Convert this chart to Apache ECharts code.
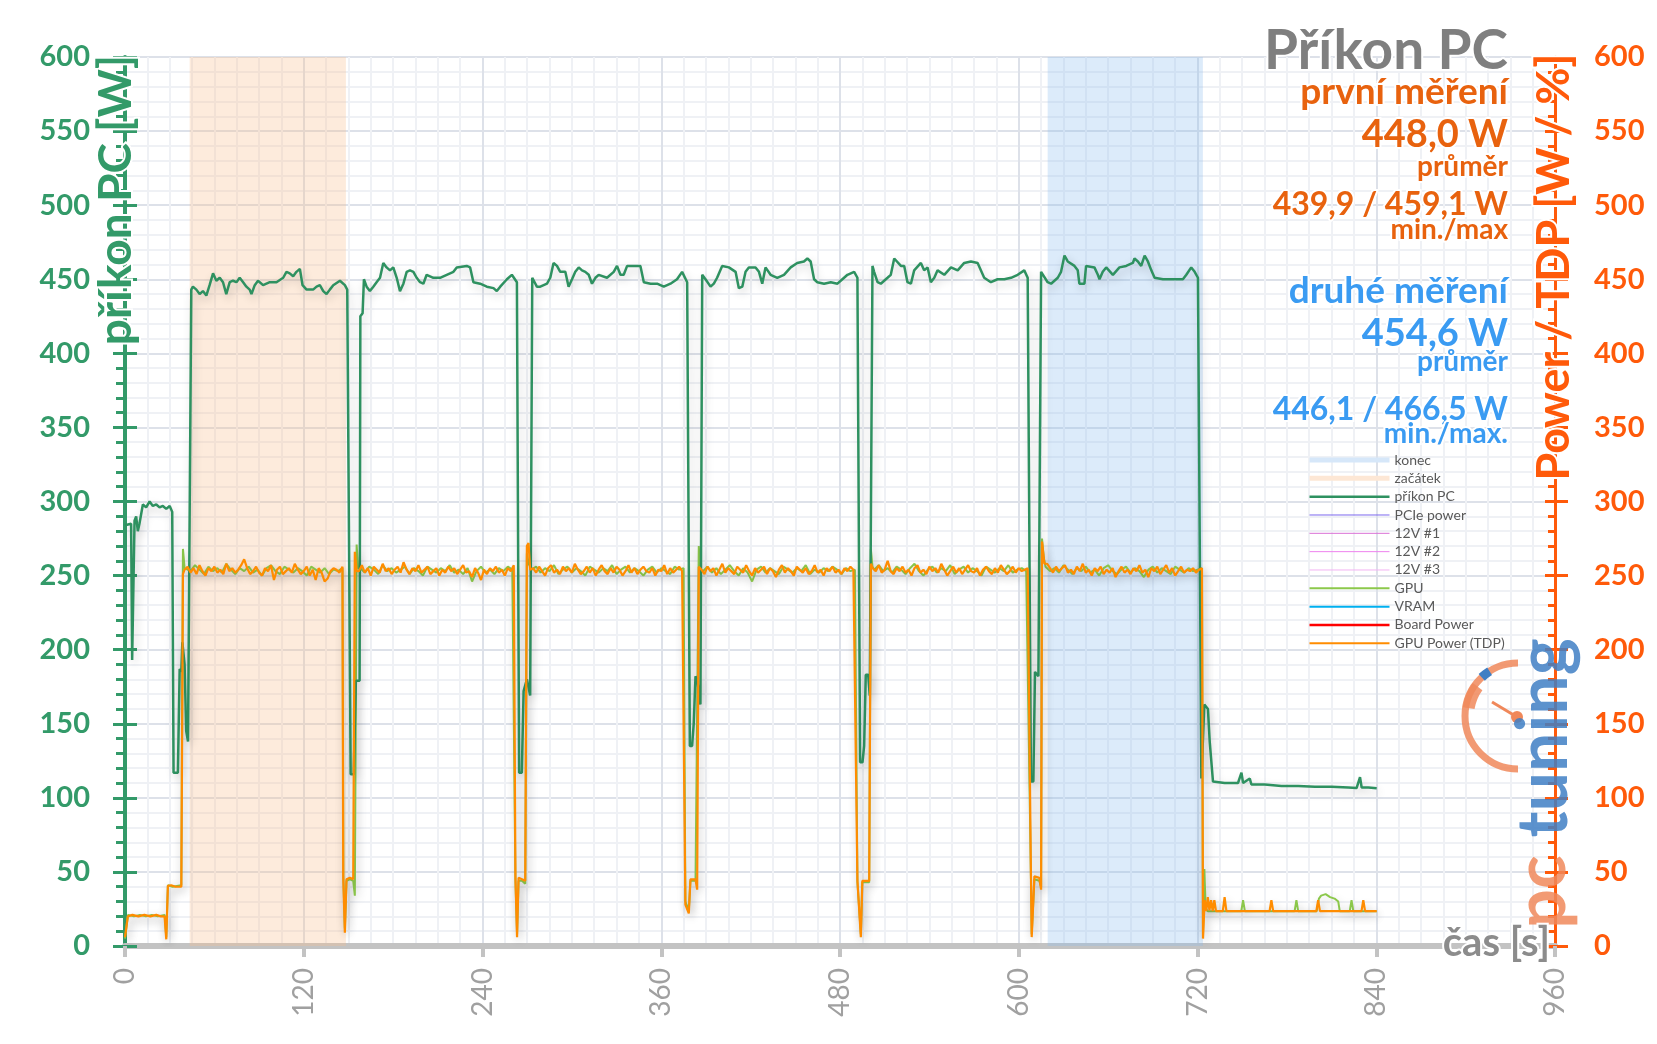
<!DOCTYPE html>
<html>
<head>
<meta charset="utf-8">
<script src="https://cdn.jsdelivr.net/npm/echarts@6/dist/echarts.min.js"></script>
<style>
html,body{margin:0;padding:0;background:#fff;}
#chart{width:1657px;height:1044px;}
</style>
</head>
<body>
<div id="chart"></div>
<script>
// ---------- axes ----------
const xMin = 0, xMax = 960, xInterval = 120;
const yMin = 0, yMax = 600, yInterval = 50;

// ---------- shaded bands (seconds) ----------
const bandZacatek = [43.4, 148.3];
const bandKonec = [619.4, 723.6];

// ---------- příkon PC [t, W] ----------
const prikonIdle = [[0,284],[4.1,285],[4.8,193],[6.0,193],[6.4,287],[7.5,290],[8.6,280],[9.7,285],[12,298],[14.2,296],[16.5,300],[18.7,297],[21,298],[23.2,296],[25.4,297],[27.7,295],[30,297],[31.7,293],[32.6,117],[35.5,117],[36.7,187],[37.8,185],[38.5,205],[40,190],[41.1,145],[42.3,138],[43.4,138]];
const prikonRun1 = [[44.5,443],[45.6,445],[47.9,443],[50.1,440],[52.3,442],[54.6,439],[56.8,446],[59.1,454],[61.3,449],[63.6,451],[65.8,448],[68,440],[70.3,448],[72.5,449],[74.8,448],[77,451],[79.3,448],[81.5,445],[83.7,443],[84.9,440],[87.1,446],[89.3,449],[92.7,446],[97.2,448],[101.7,448],[106.2,451],[108.4,455],[110.6,454],[112.9,452],[115.1,455],[117.4,457],[119.2,446],[121.9,443],[126.3,443],[128.6,445],[130.8,446],[133.1,442],[135.3,440],[137.5,443],[139.8,446],[144.3,449],[147.6,446],[149.2,443]];
const prikonGap1 = [[151.5,116],[153.5,116],[155,179],[157.5,179],[158,425],[159.5,427],[160.4,450]];
const prikonRun2 = [[162.2,445],[164.4,442],[166.7,445],[168.9,448],[171.2,451],[173.4,461],[175.6,458],[177.9,456],[180.1,458],[182.4,451],[184.6,442],[186.9,447],[189.1,455],[191.3,456],[193.6,455],[195.8,451],[198.1,448],[200.3,447],[202.5,453],[207,451],[211.5,451],[216,453],[220.5,455],[222.7,458],[229.4,459],[231.7,458],[233.9,448],[238.4,447],[242.9,445],[247.4,444],[249.6,442],[251.9,445],[256.4,450],[259.7,453],[263.1,448]];
const prikonGap2 = [[264.6,117],[266.4,117],[267.6,172],[269.8,180],[272,169],[273.4,451]];
const prikonRun3 = [[276.5,445],[278.8,445],[283.3,447],[285.5,451],[287.7,461],[290,459],[292.2,455],[295.6,455],[297.8,445],[300.1,450],[302.3,455],[304.6,458],[306.8,456],[309,455],[311.3,453],[313.5,447],[315.8,451],[318,453],[323.6,451],[328.1,455],[330.3,459],[332.6,453],[334.8,453],[337.1,459],[342.7,459],[346,459],[348.3,448],[352.8,447],[357.2,447],[361.7,445],[366.2,447],[370.6,450],[374,455],[377.4,448]];
const prikonGap3 = [[379.2,135],[380.7,135],[381.8,150],[383,182],[384.1,180],[386.3,163],[387.5,453]];
const prikonRun4 = [[389.7,450],[393.1,445],[395.3,447],[397.5,451],[400.9,459],[405.4,458],[409.9,455],[412.1,444],[414.4,445],[416.6,455],[418.8,458],[423.3,458],[425.6,455],[427.8,447],[430,458],[431.2,459],[433.4,453],[437.9,451],[442.4,453],[446.9,458],[451.3,461],[455.8,462],[458.1,464],[460.3,462],[462.6,450],[464.8,448],[469.3,447],[473.8,448],[478.3,447],[481.6,450],[485,453],[489.5,455],[491.7,451]];
const prikonGap4 = [[493.5,124],[495.1,124],[496.2,135],[497.3,183],[498.9,183],[500,169],[501.8,459]];
const prikonRun5 = [[502.9,455],[505.2,448],[507.4,447],[511.9,451],[514.1,453],[516.4,464],[520.9,459],[523.1,459],[525.3,448],[527.6,447],[529.8,456],[534.3,461],[536.5,456],[538.8,458],[541,448],[543.3,451],[545.5,456],[550,453],[554.5,458],[559,456],[563.4,461],[567.9,462],[572.4,461],[576.8,451],[581.3,448],[585.8,450],[590.3,450],[594.8,451],[599.3,453],[603.7,456],[606,451]];
const prikonGap5 = [[608.2,111],[609.8,111],[610.9,185],[613.2,182],[614.1,182],[615,455]];
const prikonRun6 = [[619.4,448],[621.7,447],[626.2,451],[628.4,455],[630.7,466],[632.9,462],[637.4,459],[639.6,456],[640.7,447],[644.1,447],[645.2,459],[650.8,458],[653.1,453],[654.2,450],[656.4,455],[658.7,458],[663.2,453],[667.6,458],[672.1,459],[676.6,461],[677.7,464],[680,462],[682.2,459],[684.5,466],[686.7,462],[689,456],[691.2,451],[696.8,450],[703.5,450],[710.2,450],[712.5,453],[715.8,458],[718.1,455],[720.3,451]];
const prikonTail = [[722.6,113],[724.6,163],[727,160],[728.2,138],[730.4,111],[738.2,110],[747.2,110],[749.5,117],[750.6,110],[755.1,113],[756.2,109],[765.1,109],[776.4,108],[787.6,108],[798.8,107.5],[810,107.5],[821.2,107],[826.8,106.6],[829.1,114],[830.2,107],[834.7,107],[840.3,106.5]];

// ---------- GPU Power (TDP) ----------
const tdpIdle = [[0,6],[1.9,20],[5,21],[9,20],[13,21],[17,20],[21,21],[24,20],[26.6,20],[27.7,4.5],[28.8,40.6],[31,41],[34,40],[37.8,40],[38.9,251]];
const tdpRun1 = {start:40, step:2, values:[254,256,252,255,251,257,253,250,255,253,256,252,254,251,258,253,255,252,254,257,261,255,251,253,256,252,250,255,253,257,247,254,256,251,253,255,252,258,254,251,253,256,250,254,247,255,252,246,248,253,255,254,252,256]};
const tdpGap1 = [[146.5,47],[147.6,9],[148.7,45],[151,46],[153.2,45],[154.3,266],[155.5,253]];
const tdpRun2 = {start:157, step:2, values:[253,257,252,255,250,256,254,252,258,253,255,251,254,256,252,259,254,251,255,253,257,252,254,256,251,253,255,250,254,252,256,253,255,251,254,257,252,253,249,255,252,247,254,251,255,253,256,252,254,250,255,253,257]};
const tdpGap2 = [[262.1,47],[263.2,6],[264.2,46],[266.5,45],[268.7,44],[269.8,270],[270.9,272],[272,254]];
const tdpRun3 = {start:274, step:2, values:[255,252,256,253,250,255,257,252,254,251,256,253,255,252,258,254,251,253,256,252,255,250,254,257,253,251,255,252,256,254,250,253,257,252,255,251,254,256,253,252,255,250,254,253,257,251,255,252,254,256,253]};
const tdpGap3 = [[376.2,28],[378.5,22],[379.6,45],[383,45],[384.1,38],[385.2,256]];
const tdpRun4 = {start:387, step:2, values:[254,251,256,253,255,250,254,258,252,255,253,251,256,254,252,257,253,250,255,252,254,256,251,255,253,249,254,257,252,255,253,250,256,254,252,255,251,253,257,252,254,250,255,253,256,252,254,251,255,253,256,254]};
const tdpGap4 = [[491.7,44],[494,6],[495,44],[499.6,44],[500.7,258]];
const tdpRun5 = {start:502, step:2, values:[255,253,257,252,254,260,253,251,255,253,256,252,254,250,255,257,252,254,251,256,253,255,252,258,254,250,253,256,252,255,251,254,257,253,252,255,250,254,256,253,251,255,252,257,254,251,253,256,252,255,253,254,255]};
const tdpGap5 = [[608.2,47],[608.7,6],[610.5,47],[613.8,46],[615,38],[615.6,273],[617.2,258]];
const tdpRun6 = {start:619, step:2, values:[258,255,252,256,253,255,257,252,254,251,256,253,258,252,254,250,255,253,256,251,254,252,255,249,253,256,252,254,251,255,253,257,252,254,249,255,253,256,251,254,257,252,255,250,253,256,252,254,253,255,252,254]};
const tdpTail = [[723,255],[723.7,5],[724.8,31],[725.9,23.5],[726.9,33],[728,24],[729.1,31],[730.2,23.5],[731.3,31],[732.4,23.5],[737,23.5],[738.2,33],[739.4,23.5],[768.4,23.5],[769.6,31],[770.8,23.5],[799.8,23.5],[801,31],[802.2,23.5],[830.1,23.5],[831.3,31],[832.5,23.5],[840.3,23.5]];

// ---------- GPU ----------
const gpuIdle = [[0,5],[2,21],[6,20],[10,21],[14,20],[18,21],[22,20],[26.6,21],[27.7,6],[28.8,41],[32,40],[37.8,41],[38.9,268],[40,255]];
const gpuRun1 = {start:41, step:3, values:[256,253,257,254,251,256,253,255,252,258,254,251,255,253,256,252,254,250,255,257,253,251,256,254,252,255,253,250,256,254,252,255,251,254,253,255]};
const gpuGap1 = [[146.6,46],[147.6,12],[148.7,44],[151,45],[153.2,44],[154.3,34],[155.5,271],[156.5,255]];
const gpuRun2 = {start:158, step:3, values:[255,252,256,254,251,257,253,255,252,254,256,251,255,253,250,256,254,252,255,253,257,252,254,251,255,246,253,256,252,254,251,255,253,256,254]};
const gpuGap2 = [[262.1,45],[263.2,8],[264.2,44],[266.5,44],[268.7,42],[269.8,265],[271,258]];
const gpuRun3 = {start:273, step:3, values:[254,256,252,255,253,257,251,254,256,252,255,253,250,256,254,252,255,253,257,251,254,256,252,255,253,250,254,256,252,255,253,251,256,254,255]};
const gpuGap3 = [[376.2,30],[378.5,24],[379.6,44],[383,44],[384.1,45],[385.2,270],[386.3,254]];
const gpuRun4 = {start:388, step:3, values:[253,256,252,255,251,254,257,253,250,255,252,246,254,256,252,255,253,251,256,254,252,255,253,257,251,254,252,255,253,256,254,251,255,253,254]};
const gpuGap4 = [[491.7,43],[494,8],[495,43],[499.6,43],[500.7,268],[501.8,256]];
const gpuRun5 = {start:503, step:3, values:[254,257,253,255,252,256,254,251,255,258,253,250,254,256,252,255,253,257,251,254,256,252,255,253,250,256,254,252,255,253,257,252,254,255,253]};
const gpuGap5 = [[608.2,45],[608.7,8],[610.5,45],[613.8,44],[615,40],[615.6,275],[616.8,262]];
const gpuRun6 = {start:618, step:3, values:[256,253,255,252,257,254,251,255,253,256,252,254,250,255,257,253,251,254,256,252,255,253,249,254,256,252,255,253,251,256,254,252,255,253,254]};
const gpuTail = [[723,255],[723.7,8],[724.6,52],[725.5,25],[727,23.5],[749.4,23.5],[750.6,31],[751.8,23.5],[785.2,23.5],[786.4,31],[787.6,23.5],[800,23.5],[801.5,32],[803,34],[806,35],[809,33],[812,32],[814.5,30],[815.5,23.5],[822.2,23.5],[823.4,31],[824.6,23.5],[840.3,23.5]];

// ---------- legend ----------
const legendNames = ['konec','začátek','příkon PC','PCIe power','12V #1','12V #2','12V #3','GPU','VRAM','Board Power','GPU Power (TDP)'];

// ---------- texts ----------
const titleText = 'Příkon PC';
const first = ['první měření','448,0 W','průměr','439,9 / 459,1 W','min./max'];
const second = ['druhé měření','454,6 W','průměr','446,1 / 466,5 W','min./max.'];

// ---------- build ----------
function run(r){ return r.values.map((v,i)=>[r.start + i*r.step, v]); }
const prikonData = [].concat(prikonIdle,prikonRun1,prikonGap1,prikonRun2,prikonGap2,prikonRun3,prikonGap3,prikonRun4,prikonGap4,prikonRun5,prikonGap5,prikonRun6,prikonTail);
const tdpData = [].concat(tdpIdle,run(tdpRun1),tdpGap1,run(tdpRun2),tdpGap2,run(tdpRun3),tdpGap3,run(tdpRun4),tdpGap4,run(tdpRun5),tdpGap5,run(tdpRun6),tdpTail);
const gpuData = [].concat(gpuIdle,run(gpuRun1),gpuGap1,run(gpuRun2),gpuGap2,run(gpuRun3),gpuGap3,run(gpuRun4),gpuGap4,run(gpuRun5),gpuGap5,run(gpuRun6),gpuTail);

const GREEN_AX = '#339a69';
const ORANGE_AX = '#ff5a0a';
const FONT = 'Lato';
const shadow = {shadowColor:'rgba(0,0,0,0.2)', shadowBlur:10, shadowOffsetX:2, shadowOffsetY:4};

const colors = {
  'konec':'#d6e7f9', 'začátek':'#fde7d5', 'příkon PC':'#2e9160', 'PCIe power':'#7b68ee',
  '12V #1':'#da70d6', '12V #2':'#ee82ee', '12V #3':'#f3b3f3', 'GPU':'#8cc84b',
  'VRAM':'#00b0f0', 'Board Power':'#ff0000', 'GPU Power (TDP)':'#ff8c00'
};
const widths = {'konec':5,'začátek':5,'příkon PC':2.5,'PCIe power':1,'12V #1':1,'12V #2':1,'12V #3':1,'GPU':2,'VRAM':2,'Board Power':2.5,'GPU Power (TDP)':2};

function lineSeries(name, data, extra){
  return Object.assign({
    name, type:'line', data, xAxisIndex:0, yAxisIndex:0, symbol:'none', showSymbol:false,
    lineStyle:{color:colors[name], width:widths[name]}, itemStyle:{color:colors[name]},
    silent:true, animation:false
  }, extra||{});
}

const series = [
  lineSeries('konec', [], {markArea:{silent:true, itemStyle:{color:'rgba(140,190,240,0.3)'}, data:[[{xAxis:bandKonec[0]},{xAxis:bandKonec[1]}]]}}),
  lineSeries('začátek', [], {markArea:{silent:true, itemStyle:{color:'rgba(250,190,140,0.3)'}, data:[[{xAxis:bandZacatek[0]},{xAxis:bandZacatek[1]}]]}}),
  lineSeries('PCIe power', []),
  lineSeries('12V #1', []),
  lineSeries('12V #2', []),
  lineSeries('12V #3', []),
  lineSeries('VRAM', []),
  lineSeries('Board Power', []),
  lineSeries('GPU', gpuData, {lineStyle:Object.assign({color:colors['GPU'], width:2}, shadow), z:3}),
  lineSeries('příkon PC', prikonData, {lineStyle:Object.assign({color:colors['příkon PC'], width:2.5}, shadow), z:4}),
  lineSeries('GPU Power (TDP)', tdpData, {lineStyle:Object.assign({color:colors['GPU Power (TDP)'], width:2.2}, shadow), z:5})
];

function txt(text, y, size, color){
  return {type:'text', z:50, style:{text, x:1508, y, align:'right', verticalAlign:'middle',
    font:'bold '+size+'px '+FONT, fill:color, stroke:'#fff', lineWidth:4}};
}
const ORANGE_T = '#e8620e', BLUE_T = '#3a9bf2';
const LOGO_O = '#f0885a', LOGO_B = '#3f7fc4';

const graphic = [
  // logo (watermark)
  {type:'group', z:10, children:[
    {type:'arc', z:10, shape:{cx:1518, cy:716, r:53, startAngle:Math.PI/2, endAngle:Math.PI*1.5, clockwise:true}, style:{stroke:LOGO_O, lineWidth:7, fill:'none', opacity:0.85}},
    {type:'arc', z:10, shape:{cx:1518, cy:716, r:50, startAngle:Math.PI*1.05, endAngle:Math.PI*1.2, clockwise:true}, style:{stroke:LOGO_O, lineWidth:12, fill:'none', opacity:0.85}},
    {type:'arc', z:11, shape:{cx:1518, cy:716, r:53, startAngle:Math.PI*1.26, endAngle:Math.PI*1.32, clockwise:true}, style:{stroke:LOGO_B, lineWidth:9, fill:'none'}},
    {type:'line', z:10, shape:{x1:1517, y1:717, x2:1492, y2:702}, style:{stroke:LOGO_O, lineWidth:3}},
    {type:'circle', z:10, shape:{cx:1517, cy:717, r:6}, style:{fill:LOGO_O}},
    {type:'text', z:10, x:1544, y:738, rotation:Math.PI/2, style:{text:'tuning', align:'center', verticalAlign:'middle', font:'bold 70px '+FONT, fill:LOGO_B, opacity:0.85}},
    {type:'text', z:10, x:1542, y:892, rotation:Math.PI/2, style:{text:'pc', align:'center', verticalAlign:'middle', font:'bold 70px '+FONT, fill:LOGO_O, opacity:0.85}}
  ]},
  // axis names
  {type:'text', z:40, x:116, y:200, rotation:Math.PI/2, style:{text:'příkon PC [W]', align:'center', verticalAlign:'middle', font:'bold 46px '+FONT, fill:GREEN_AX, stroke:'#fff', lineWidth:4}},
  {type:'text', z:40, x:1554, y:267, rotation:Math.PI/2, style:{text:'Power / TDP [W / %]', align:'center', verticalAlign:'middle', font:'bold 45px '+FONT, fill:ORANGE_AX, stroke:'#fff', lineWidth:4}},
  {type:'text', z:40, style:{text:'čas [s]', x:1550, y:943, align:'right', verticalAlign:'middle', font:'bold 40px '+FONT, fill:'#8c8c8c', stroke:'#fff', lineWidth:4}},
  // title block
  {type:'text', z:50, style:{text:titleText, x:1508, y:51, align:'right', verticalAlign:'middle', font:'bold 55px '+FONT, fill:'#7f7f7f', stroke:'#fff', lineWidth:4}},
  txt(first[0], 92, 37, ORANGE_T),
  txt(first[1], 135, 38, ORANGE_T),
  txt(first[2], 167, 28, ORANGE_T),
  txt(first[3], 205, 32, ORANGE_T),
  txt(first[4], 230, 28, ORANGE_T),
  txt(second[0], 291, 37, BLUE_T),
  txt(second[1], 334, 38, BLUE_T),
  txt(second[2], 362, 28, BLUE_T),
  txt(second[3], 410, 32, BLUE_T),
  txt(second[4], 434, 28, BLUE_T)
];

const legendData = legendNames.map(n => ({
  name:n, lineStyle:{color:colors[n], width:widths[n]}, itemStyle:{opacity:0}
}));

const option = {
  animation:false,
  backgroundColor:'#ffffff',
  textStyle:{fontFamily:FONT},
  grid:{left:125, right:102, top:57, bottom:98, containLabel:false},
  legend:{
    orient:'vertical', left:1302, top:448, itemWidth:80, itemHeight:14, itemGap:4.33,
    data:legendData, selectedMode:false,
    textStyle:{color:'#595959', fontSize:14, fontFamily:FONT, lineHeight:14}
  },
  xAxis:{
    type:'value', min:xMin, max:xMax, interval:xInterval,
    axisLine:{show:true, onZero:false, lineStyle:{color:'#c3c3c3', width:6}},
    axisTick:{show:true, length:11, lineStyle:{color:'#c3c3c3', width:4}},
    minorTick:{show:false, splitNumber:8},
    axisLabel:{rotate:90, margin:22, color:'#a0a0a0', fontSize:28, fontFamily:FONT},
    splitLine:{show:true, lineStyle:{color:'#dde1e9', width:2}},
    minorSplitLine:{show:true, lineStyle:{color:'#eff1f5', width:2}}
  },
  yAxis:[
    {type:'value', position:'left', min:yMin, max:yMax, interval:yInterval,
      axisLine:{show:true, lineStyle:{color:GREEN_AX, width:4}},
      axisTick:{show:true, length:12, lineStyle:{color:GREEN_AX, width:3}},
      minorTick:{show:true, splitNumber:5, length:9, lineStyle:{color:GREEN_AX, width:3}},
      axisLabel:{color:GREEN_AX, fontSize:29, fontWeight:'bold', fontFamily:FONT, margin:35},
      splitLine:{show:true, lineStyle:{color:'#dde1e9', width:2}},
      minorSplitLine:{show:true, lineStyle:{color:'#eff1f5', width:2}}
    },
    {type:'value', position:'right', min:yMin, max:yMax, interval:yInterval,
      axisLine:{show:true, lineStyle:{color:ORANGE_AX, width:3}},
      axisTick:{show:true, length:13, lineStyle:{color:ORANGE_AX, width:3}},
      axisLabel:{color:ORANGE_AX, fontSize:29, fontWeight:'bold', fontFamily:FONT, margin:39},
      splitLine:{show:false}
    },
    {type:'value', position:'left', min:yMin, max:yMax, interval:yInterval,
      axisLine:{show:false},
      axisTick:{show:true, inside:true, length:12, lineStyle:{color:GREEN_AX, width:3}},
      axisLabel:{show:false}, splitLine:{show:false}
    },
    {type:'value', position:'right', min:yMin, max:yMax, interval:yInterval,
      axisLine:{show:false},
      axisTick:{show:true, inside:true, length:10, lineStyle:{color:ORANGE_AX, width:3}},
      minorTick:{show:true, splitNumber:5, length:7, lineStyle:{color:ORANGE_AX, width:3}},
      axisLabel:{show:false}, splitLine:{show:false}
    }
  ],
  series,
  graphic
};

const chart = echarts.init(document.getElementById('chart'), null, {renderer:'canvas'});
chart.setOption(option);
</script>
</body>
</html>
